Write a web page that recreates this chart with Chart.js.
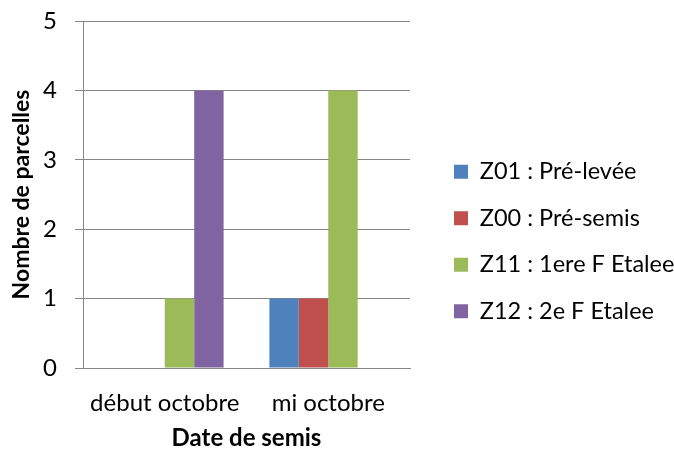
<!DOCTYPE html>
<html>
<head>
<meta charset="utf-8">
<script src="https://cdn.jsdelivr.net/npm/chart.js@4/dist/chart.umd.min.js"></script>
<style>
  body { margin: 0; background: #fff; }
</style>
</head>
<body>
<canvas id="semisChart" width="674" height="453"></canvas>
<script>
'use strict'
const categories = ['début octobre', 'mi octobre'];
const seriesNames = ['Z01 : Pré-levée', 'Z00 : Pré-semis', 'Z11 : 1ere F Etalee', 'Z12 : 2e F Etalee'];
const z01 = [0, 1];
const z00 = [0, 1];
const z11 = [1, 4];
const z12 = [4, 0];
const yTicks = [0, 1, 2, 3, 4, 5];
const colors = ['#4F81BD', '#C0504D', '#9BBB59', '#8064A2'];

function drawChart() {
  const ctx = document.getElementById('semisChart').getContext('2d');
  const font = 'Lato';
  const grey = '#868686';

  const data = {
    labels: categories,
    datasets: [z01, z00, z11, z12].map((values, i) => ({
      label: seriesNames[i],
      data: values,
      backgroundColor: colors[i],
      borderWidth: 0,
      categoryPercentage: 0.72,
      barPercentage: 1,
    })),
  };

  const options = {
    responsive: false,
    animation: false,
    layout: {
      padding: 0,
    },
    plugins: {
      legend: {
        position: 'right',
        maxWidth: 243,
        title: {
          display: true,
          text: '',
          font: { size: 30, lineHeight: 1 },
          padding: 0,
        },
        labels: {
          boxWidth: 14,
          boxHeight: 14,
          padding: 23,
          color: '#000',
          font: { family: font, size: 23.5 },
        },
      },
      tooltip: { enabled: false },
    },
    scales: {
      x: {
        afterFit: (scale) => { scale.height = 85; },
        grid: { display: false, drawTicks: false },
        border: { display: true, color: grey, width: 1 },
        ticks: {
          color: '#000',
          font: { family: font, size: 24 },
          padding: 21,
        },
        title: {
          display: true,
          text: 'Date de semis',
          color: '#000',
          font: { family: font, size: 24, weight: 'bold' },
          padding: { top: 0, bottom: 0 },
        },
      },
      y: {
        min: 0,
        max: 5,
        afterFit: (scale) => {
          scale.width = 83;
          scale.paddingTop = 21;
          scale.paddingBottom = 0;
        },
        afterBuildTicks: (axis) => {
          axis.ticks = yTicks.map(v => ({ value: v }));
        },
        grid: {
          color: grey,
          lineWidth: 1,
          tickLength: 8,
        },
        border: { display: true, color: grey, width: 1 },
        ticks: {
          color: '#000',
          font: { family: font, size: 24 },
          padding: 18,
        },
        title: {
          display: true,
          text: 'Nombre de parcelles',
          color: '#000',
          font: { family: font, size: 23, weight: 'bold' },
          padding: { top: 8, bottom: 0 },
        },
      },
      gap: {
        position: 'right',
        afterFit: (scale) => { scale.width = 21; },
        grid: { display: false, drawTicks: false },
        border: { display: false },
        ticks: { display: false },
      },
    },
  };

  const semisChart = new Chart(ctx, {
    type: 'bar',
    data: data,
    options: options,
  });
}

Promise.all([
  document.fonts.load('24px Lato'),
  document.fonts.load('bold 24px Lato'),
]).then(drawChart, drawChart);
</script>
</body>
</html>
